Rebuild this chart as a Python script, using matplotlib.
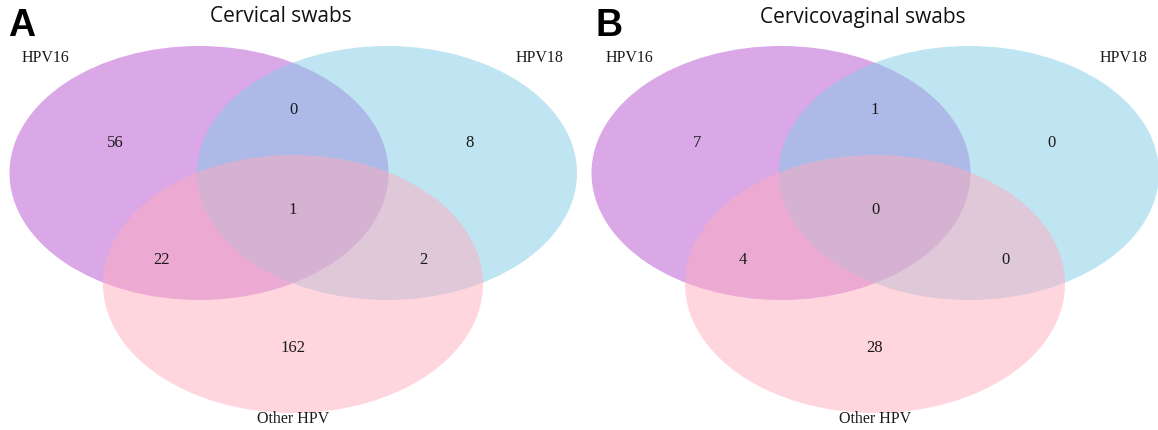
import matplotlib
matplotlib.use("Agg")
import matplotlib.pyplot as plt
from matplotlib.patches import Ellipse

# Panel data
panel_letters = ["A", "B"]
panel_titles = ["Cervical swabs", "Cervicovaginal swabs"]
set_names = ["HPV16", "HPV18", "Other HPV"]
# Region counts: only16, 16&18, only18, all three, 16&other, 18&other, only other
region_keys = ["16", "16_18", "18", "16_18_O", "16_O", "18_O", "O"]
counts_cervical = [56, 0, 8, 1, 22, 2, 162]
counts_cervicovaginal = [7, 1, 0, 0, 4, 0, 28]

set_colors = ["#b751d1", "#81cbe7", "#ffadbf"]

# Ellipse geometry within a panel (pixel units, origin at top-left of panel)
ell_centers = [(199, 173), (387, 173), (293, 284)]
ell_sizes = [(379, 254), (380, 254), (380, 258)]
region_pos = {
    "16": (115, 143), "16_18": (293, 110), "18": (470, 143),
    "16_18_O": (293, 210), "16_O": (161, 260), "18_O": (423, 260),
    "O": (293, 348),
}

W, H = 1158, 430
fig = plt.figure(figsize=(W / 100, H / 100), dpi=100)
ax = fig.add_axes([0, 0, 1, 1])
ax.set_xlim(0, W)
ax.set_ylim(H, 0)
ax.axis("off")

serif = "Liberation Serif"
offsets = [0, 582]
for p, (dx, letter, title, counts) in enumerate(
        zip(offsets, panel_letters, panel_titles,
            [counts_cervical, counts_cervicovaginal])):
    for (cx, cy), (w, h), col in zip(ell_centers, ell_sizes, set_colors):
        ax.add_patch(Ellipse((cx + dx, cy), w, h, facecolor=col,
                             edgecolor="none", alpha=0.5))
    for key, val in zip(region_keys, counts):
        x, y = region_pos[key]
        ax.text(x + dx, y, str(val), ha="center", va="center",
                fontsize=12, family=serif, color="#1a1a1a")
    ax.text(dx + 8 + (6 if p == 1 else 0), 26, letter, ha="left", va="center",
            fontsize=27, fontweight="bold", family="Liberation Sans")
    ax.text(dx + 281, 17, title, ha="center", va="center",
            fontsize=15, family="Open Sans", color="#111111")
    ax.text(dx + 22 + (2 if p == 1 else 0), 58, set_names[0], ha="left",
            va="center", fontsize=11.5, family=serif, color="#1a1a1a")
    ax.text(dx + 563 + (2 if p == 1 else 0), 58, set_names[1], ha="right",
            va="center", fontsize=11.5, family=serif, color="#1a1a1a")
    ax.text(dx + 293, 419, set_names[2], ha="center", va="center",
            fontsize=11.5, family=serif, color="#1a1a1a")

fig.savefig("out.png", dpi=100)
